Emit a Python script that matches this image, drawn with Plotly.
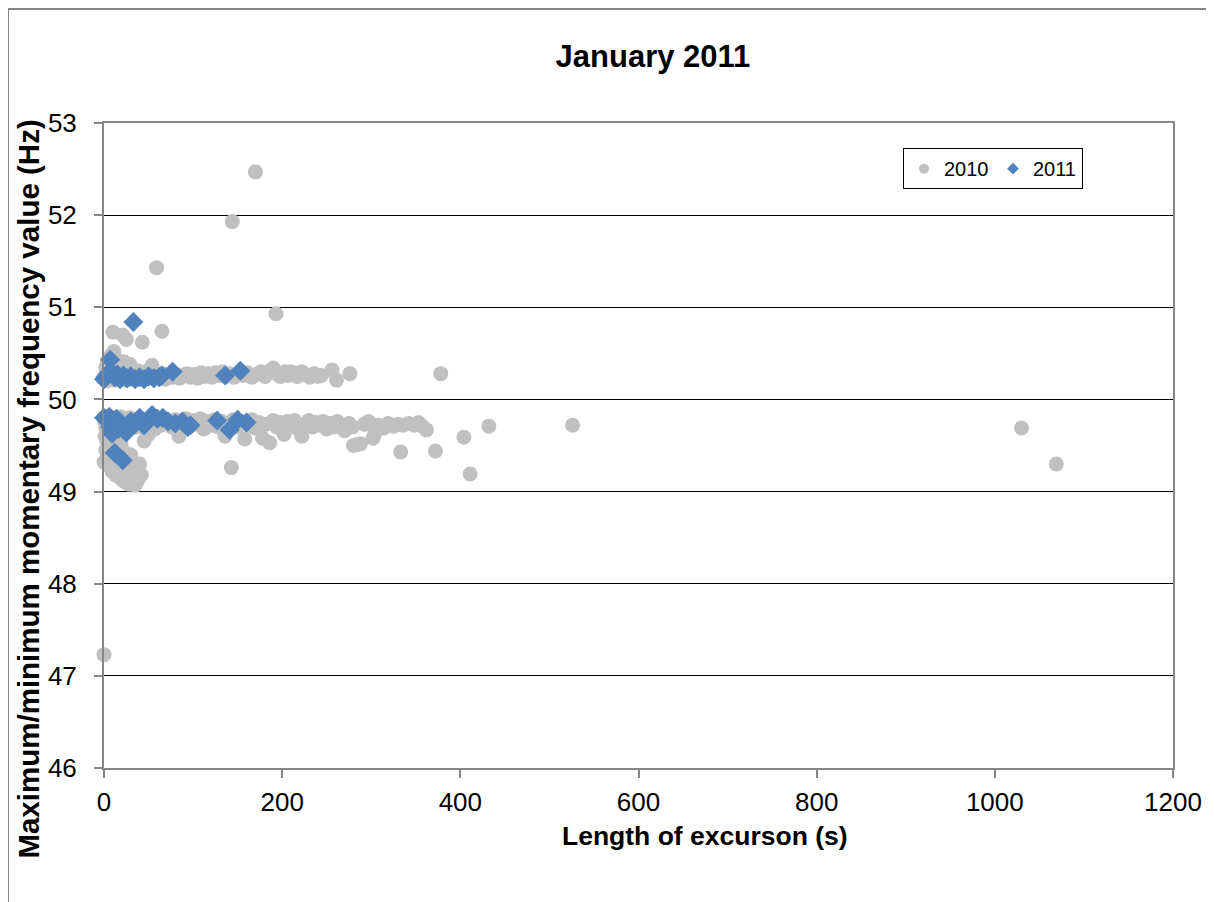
import plotly.graph_objects as go

# ---------------- data ----------------
x_2010 = [
    0, 170, 144, 59, 193, 65, 10, 21, 43, 25, 378, 276, 1030, 1069, 526, 432, 404, 411, 372, 333, 143, 284, 280,
    2, 4, 6, 8, 9, 11, 13, 15, 17, 19, 22, 26, 29, 31, 35, 38, 46, 54, 50,
    0, 1, 3, 5, 7, 10, 12, 14, 16, 18, 20, 23, 25, 27, 30, 33, 36, 39, 42, 45, 48, 52, 55, 58, 62, 66, 69, 73,
    77, 81, 85, 89, 93, 97, 101, 105, 109, 113, 117, 121, 125, 129, 133, 137, 141, 146, 150, 156, 161, 166,
    171, 176, 181, 186, 190, 194, 198, 203, 207, 212, 217, 222, 226, 231, 236, 240, 244, 256, 261, 209, 239,
    0, 1, 2, 3, 4, 5, 6, 7, 8, 9, 11, 13, 15, 17, 19, 21, 23, 25, 27, 29, 31, 33, 36, 39, 42, 45, 48, 51, 54,
    57, 60, 64, 68, 72, 76, 80, 84, 88, 92, 96, 100, 104, 108, 112, 116, 120, 124, 128, 132, 136, 140, 145,
    150, 155, 158, 162, 166, 170, 174, 178, 182, 186, 190, 194, 198, 202, 206, 210, 214, 218, 222, 226, 230,
    234, 238, 242, 246, 250, 254, 258, 262, 266, 270, 275, 279, 288, 292, 297, 302, 304, 308, 314, 319, 325,
    330, 336, 342, 348, 353, 357, 362,
    0, 1, 2, 3, 4, 5, 6, 7, 8, 9, 10, 11, 12, 13, 14, 15, 16, 17, 18, 19, 20, 21, 22, 23, 24, 25, 26, 27, 28,
    29, 30, 32, 33, 35, 37, 38, 40, 42, 45, 50,
]
y_2010 = [
    47.23, 52.47, 51.93, 51.43, 50.93, 50.74, 50.73, 50.70, 50.62, 50.65, 50.28, 50.28, 49.69, 49.30, 49.72,
    49.71, 49.59, 49.19, 49.44, 49.43, 49.26, 49.51, 49.50,
    50.35, 50.42, 50.30, 50.48, 50.38, 50.52, 50.44, 50.33, 50.40, 50.36, 50.41, 50.30, 50.38, 50.33, 50.27,
    50.31, 50.29, 50.37, 50.32,
    50.22, 50.25, 50.20, 50.27, 50.23, 50.26, 50.21, 50.28, 50.24, 50.22, 50.27, 50.25, 50.21, 50.28, 50.24,
    50.22, 50.26, 50.23, 50.27, 50.22, 50.25, 50.28, 50.23, 50.26, 50.24, 50.28, 50.22, 50.26,
    50.24, 50.27, 50.23, 50.26, 50.28, 50.24, 50.27, 50.23, 50.29, 50.25, 50.28, 50.24, 50.29, 50.26, 50.30,
    50.25, 50.28, 50.24, 50.27, 50.26, 50.29, 50.24,
    50.27, 50.30, 50.25, 50.31, 50.34, 50.28, 50.25, 50.30, 50.26, 50.29, 50.25, 50.30, 50.27, 50.24, 50.28,
    50.25, 50.26, 50.32, 50.21, 50.30, 50.26,
    49.80, 49.75, 49.70, 49.78, 49.65, 49.82, 49.72, 49.77, 49.68, 49.80, 49.74, 49.79, 49.70, 49.76, 49.81,
    49.73, 49.78, 49.68, 49.75, 49.80, 49.72, 49.77, 49.70, 49.79, 49.74, 49.69, 49.78, 49.73, 49.80,
    49.68, 49.76, 49.72, 49.79, 49.74, 49.70, 49.78, 49.60, 49.75, 49.79, 49.71, 49.77, 49.73, 49.79, 49.68,
    49.76, 49.72, 49.78, 49.70, 49.76, 49.60, 49.74, 49.78,
    49.70, 49.76, 49.57, 49.72, 49.78, 49.69, 49.75, 49.58, 49.73, 49.53, 49.77, 49.70, 49.75, 49.62, 49.76,
    49.71, 49.77, 49.68, 49.60, 49.74, 49.77,
    49.70, 49.75, 49.72, 49.76, 49.68, 49.74, 49.70, 49.76, 49.72, 49.66, 49.74, 49.70, 49.52, 49.73, 49.76,
    49.58, 49.63, 49.72, 49.69, 49.74, 49.71,
    49.73, 49.72, 49.74, 49.72, 49.75, 49.71, 49.67,
    49.32, 49.60, 49.45, 49.55, 49.38, 49.50, 49.28, 49.62, 49.42, 49.22, 49.55, 49.35, 49.48, 49.18, 49.60,
    49.30, 49.45, 49.25, 49.15, 49.52, 49.38, 49.12, 49.28, 49.20, 49.42, 49.10, 49.33, 49.18, 49.08,
    49.25, 49.40, 49.14, 49.22, 49.07, 49.20, 49.12, 49.30, 49.18, 49.55, 49.62,
]

x_2011 = [
    0, 2, 5, 7, 8, 12, 15, 18, 22, 26, 30, 35, 40, 45, 50, 56, 62, 65, 77, 136, 153, 33,
    0, 3, 6, 7, 9, 10, 14, 18, 21, 26, 30, 35, 40, 45, 54, 60, 66, 72, 80, 88, 94, 97, 127, 141, 150, 160,
    12, 21, 16, 25,
]
y_2011 = [
    50.22, 50.25, 50.28, 50.43, 50.30, 50.24, 50.27, 50.22, 50.26, 50.23, 50.25, 50.22, 50.24, 50.22, 50.25,
    50.23, 50.24, 50.26, 50.30, 50.26, 50.31, 50.84,
    49.80, 49.78, 49.81, 49.70, 49.63, 49.77, 49.79, 49.75, 49.70, 49.72, 49.76, 49.74, 49.80, 49.72, 49.83,
    49.79, 49.80, 49.76, 49.74, 49.76, 49.70, 49.72, 49.77, 49.67, 49.78, 49.75,
    49.42, 49.34, 49.68, 49.64,
]

series_names = ["2010", "2011"]
x_ticks = [0, 200, 400, 600, 800, 1000, 1200]
y_ticks = [46, 47, 48, 49, 50, 51, 52, 53]

FONT = "Arial, 'Liberation Sans', sans-serif"
GRAY = "#C0C0C0"
BLUE = "#4F81BD"

fig = go.Figure()
fig.add_trace(go.Scatter(
    x=x_2010, y=y_2010, mode="markers", name=series_names[0], showlegend=False,
    cliponaxis=False,
    marker=dict(symbol="circle", size=15, color=GRAY, line=dict(width=0)),
))
fig.add_trace(go.Scatter(
    x=x_2011, y=y_2011, mode="markers", name=series_names[1], showlegend=False,
    cliponaxis=False,
    marker=dict(symbol="diamond", size=15, color=BLUE, line=dict(width=0.5, color="#4A7AB3")),
))
# legend entries (smaller symbols, as in the original legend)
fig.add_trace(go.Scatter(
    x=[None], y=[None], mode="markers", name=series_names[0],
    marker=dict(symbol="circle", size=10, color=GRAY),
))
fig.add_trace(go.Scatter(
    x=[None], y=[None], mode="markers", name=series_names[1],
    marker=dict(symbol="diamond", size=9, color=BLUE),
))

# outer chart border (top and left visible)
fig.add_shape(type="line", xref="paper", yref="paper",
              x0=-0.0898, y0=1.1767, x1=1.06, y1=1.1767,
              line=dict(color="#868686", width=2))
fig.add_shape(type="line", xref="paper", yref="paper",
              x0=-0.0898, y0=1.1767, x1=-0.0898, y1=-0.25,
              line=dict(color="#868686", width=2))

# axis titles (placed as in the original chart)
fig.add_annotation(text="<b>Length of excurson (s)</b>", xref="paper", yref="paper",
                   x=0.5622, y=-0.1054, xanchor="center", yanchor="middle",
                   showarrow=False, font=dict(size=26.5, family=FONT, color="black"))
fig.add_annotation(text="<b>Maximum/minimum momentary frequency value (Hz)</b>",
                   xref="paper", yref="paper", textangle=-90,
                   x=-0.0705, y=0.4326, xanchor="center", yanchor="middle",
                   showarrow=False, font=dict(size=29.5, family=FONT, color="black"))

fig.update_layout(
    width=1206, height=894,
    margin=dict(l=96, r=41, t=115, b=134),
    paper_bgcolor="white", plot_bgcolor="white",
    font=dict(family=FONT, color="black", size=26),
    title=dict(text="<b>January 2011</b>", x=0.5348, xanchor="center",
               y=0.9465, yanchor="middle", font=dict(size=31, family=FONT)),
    showlegend=True,
    legend=dict(orientation="h", x=0.7474, y=0.961, xanchor="left", yanchor="top",
                bordercolor="black", borderwidth=1, bgcolor="white",
                font=dict(size=20, family=FONT), itemwidth=30,
                entrywidth=44, entrywidthmode="pixels",
                tracegroupgap=0),
)
fig.update_xaxes(
    range=[0, 1200], tickvals=x_ticks, ticktext=[str(v) for v in x_ticks],
    showgrid=False, zeroline=False,
    showline=True, linecolor="#868686", linewidth=2, mirror=True,
    ticks="outside", ticklen=8, tickcolor="#868686", tickwidth=1.5,
    ticklabelstandoff=2,
)
fig.update_yaxes(
    range=[46, 53], tickvals=y_ticks, ticktext=[str(v) for v in y_ticks],
    showgrid=True, gridcolor="black", gridwidth=1.2, zeroline=False,
    showline=True, linecolor="#868686", linewidth=2, mirror=True,
    ticks="outside", ticklen=8, tickcolor="#868686", tickwidth=1.5,
    ticklabelstandoff=12,
)

fig.write_html("out.html")
